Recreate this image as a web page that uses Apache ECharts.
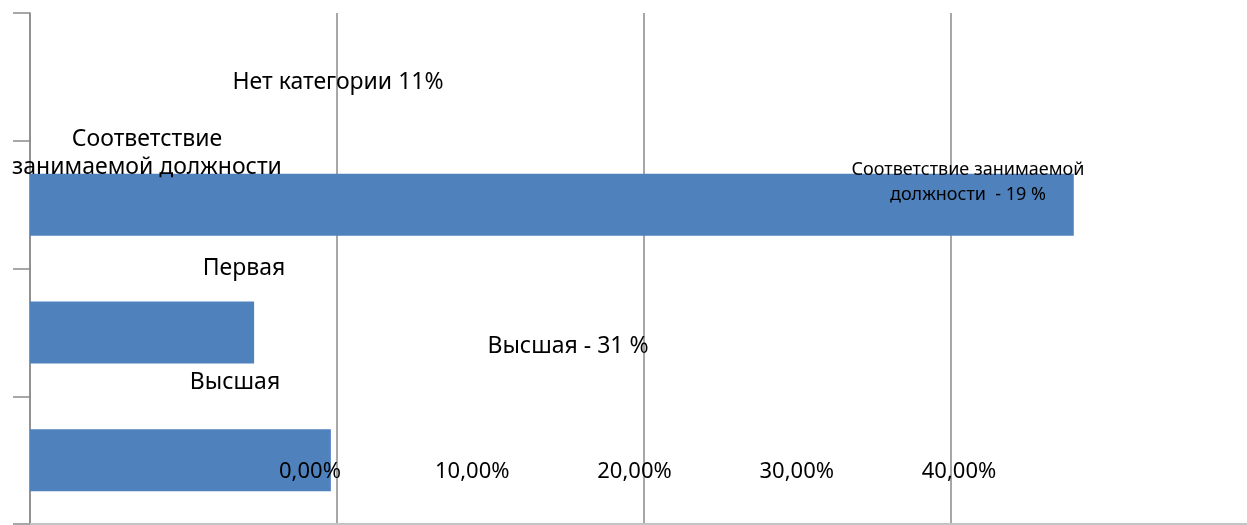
<!DOCTYPE html>
<html>
<head>
<meta charset="utf-8">
<script src="https://cdn.jsdelivr.net/npm/echarts@6/dist/echarts.min.js"></script>
<style>
html, body { margin: 0; padding: 0; background: #fff; }
#chart { width: 1247px; height: 525px; }
</style>
</head>
<body>
<div id="chart"></div>
<script>
// категории снизу вверх
var categories = ['Высшая', 'Первая', 'Соответствие занимаемой должности', 'Нет категории'];
var values = [9.8, 7.3, 34.0, 0];
// подписи значений (как в исходной диаграмме)
var valueLabels = ['Высшая - 31 %', '', 'Соответствие занимаемой\nдолжности  - 19 %', 'Нет категории 11%'];
var nameLabels = ['Высшая', 'Первая', 'Соответствие\nзанимаемой должности', ''];
var tickLabels = [0, 10, 20, 30, 40];

var FONT = 'Noto Sans';
var chart = echarts.init(document.getElementById('chart'));

// смещения подписей относительно столбца
var valueLabelPos = [[538, -83], null, [938, 9], [308, 37]];
var nameLabelPos = [[205, -47], [214, -33], [117, -20], null];

function valueData() {
    return values.map(function (v, i) {
        var item = { value: v };
        if (valueLabels[i]) {
            item.label = {
                show: true,
                position: valueLabelPos[i],
                formatter: valueLabels[i],
                fontSize: i === 2 ? 18 : 23,
                lineHeight: i === 2 ? 25 : 28
            };
        }
        return item;
    });
}

function nameData() {
    return values.map(function (v, i) {
        var item = { value: v };
        if (nameLabels[i]) {
            item.label = {
                show: true,
                position: nameLabelPos[i],
                formatter: nameLabels[i],
                fontSize: 23,
                lineHeight: 28
            };
        }
        return item;
    });
}

var option = {
    animation: false,
    textStyle: { fontFamily: FONT },
    grid: [
        { left: 30, top: 13, width: 1247, height: 511, outerBoundsMode: 'none', containLabel: false },
        { left: 310, top: 440, width: 649, height: 15, outerBoundsMode: 'none', containLabel: false }
    ],
    xAxis: [
        {
            type: 'value', gridIndex: 0, min: 0, max: 40.62, interval: 10,
            axisLabel: { show: false },
            axisTick: { show: false },
            axisLine: { show: true, lineStyle: { color: '#c4c4c4', width: 2 } },
            splitLine: { show: true, lineStyle: { color: '#8a8a8a', width: 1.5 } }
        },
        {
            type: 'value', gridIndex: 1, min: tickLabels[0], max: tickLabels[tickLabels.length - 1], interval: 10,
            z: 20,
            axisLine: { show: false },
            axisTick: { show: false },
            splitLine: { show: false },
            axisLabel: {
                color: '#000', fontSize: 22, fontFamily: FONT, margin: 6,
                formatter: function (v) { return v.toFixed(2).replace('.', ',') + '%'; }
            }
        }
    ],
    yAxis: [
        {
            type: 'category', gridIndex: 0, data: categories,
            axisLabel: { show: false },
            axisLine: { show: true, lineStyle: { color: '#8a8a8a', width: 1.5 } },
            axisTick: { show: true, length: 17, lineStyle: { color: '#8a8a8a', width: 1.5 } }
        },
        { type: 'value', gridIndex: 1, show: false }
    ],
    series: [
        {
            type: 'bar', xAxisIndex: 0, yAxisIndex: 0,
            barWidth: 62,
            itemStyle: { color: '#4f81bd' },
            label: { color: '#000', fontFamily: FONT, align: 'center', verticalAlign: 'middle' },
            data: valueData()
        },
        {
            type: 'bar', xAxisIndex: 0, yAxisIndex: 0,
            barWidth: 62, barGap: '-100%',
            itemStyle: { color: 'rgba(0,0,0,0)' },
            label: { color: '#000', fontFamily: FONT, align: 'center', verticalAlign: 'middle' },
            data: nameData()
        }
    ]
};
chart.setOption(option);
</script>
</body>
</html>
